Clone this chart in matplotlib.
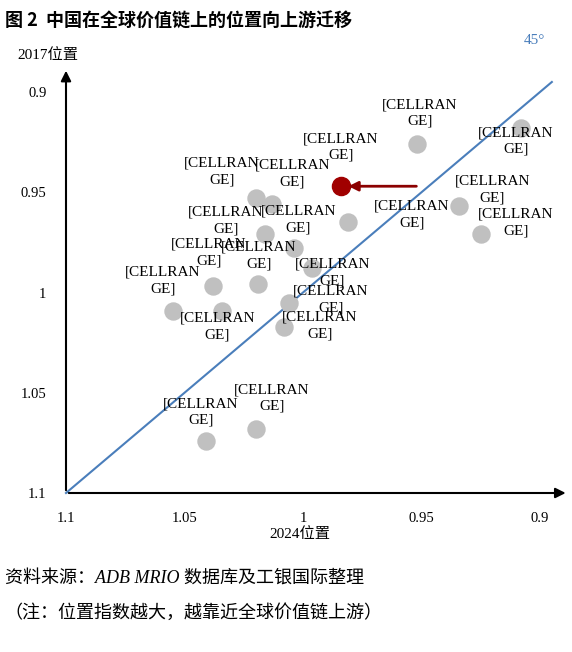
import matplotlib.pyplot as plt

plt.rcParams['font.family'] = ['Liberation Serif', 'Noto Sans CJK SC']

x2024 = [0.908, 0.952, 0.934, 0.925, 0.981, 1.020, 1.013, 1.016, 1.004, 0.996,
         1.038, 1.019, 1.055, 1.034, 1.006, 1.008, 1.041, 1.020]
y2017 = [0.918, 0.926, 0.957, 0.971, 0.965, 0.953, 0.956, 0.971, 0.978, 0.988,
         0.997, 0.996, 1.009, 1.009, 1.005, 1.017, 1.074, 1.068]
# label centre offsets from each point, in pixels (right, down)
offs = [(-5, 13), (3, -31), (33, -17), (35, -12), (64, -8), (-34, -27), (20, -31), (-39, -14),
        (5, -29), (20, 4), (-4, -34), (1, -29), (-10, -30), (-5, 16), (42, -3), (36, -1),
        (-5, -29), (16, -31)]
red_x, red_y = 0.984, 0.947
label = "[CELLRAN\nGE]"
ticks = [1.1, 1.05, 1, 0.95, 0.9]
tick_labels = ["1.1", "1.05", "1", "0.95", "0.9"]

fig = plt.figure(figsize=(5.72, 6.52), dpi=100)
ax = fig.add_axes([66/572, 159/652, 474/572, 401/652])
ax.set_xlim(1.1, 0.9)
ax.set_ylim(1.1, 0.9)
for s in ax.spines.values():
    s.set_visible(False)
ax.set_xticks(ticks)
ax.set_xticklabels(tick_labels, fontsize=10.5)
ax.set_yticks(ticks)
ax.set_yticklabels(tick_labels, fontsize=10.5)
ax.tick_params(length=0, pad=14)

ax.plot([1.1, 0.895], [1.1, 0.895], color='#4a7ebb', lw=1.5, clip_on=False, zorder=1)
ax.text(0.898, 0.876, "45°", color='#4a7ebb', fontsize=11, ha='right')

ax.annotate('', xy=(1.06, 0), xytext=(0, 0), xycoords='axes fraction',
            arrowprops=dict(arrowstyle='-|>', color='black', lw=1.5, mutation_scale=15))
ax.annotate('', xy=(0, 1.06), xytext=(0, 0), xycoords='axes fraction',
            arrowprops=dict(arrowstyle='-|>', color='black', lw=1.5, mutation_scale=15))

ax.scatter(x2024, y2017, s=150, color='#c0c0c0', zorder=3, clip_on=False)
for x, y, (dx, dy) in zip(x2024, y2017, offs):
    ax.annotate(label, (x, y), xytext=(dx * 0.72, -dy * 0.72), textcoords='offset points',
                ha='center', va='center', fontsize=11, linespacing=1.35, zorder=4)
ax.scatter([red_x], [red_y], s=170, color='#a00000', zorder=5)
ax.annotate(label, (red_x, red_y), xytext=(0, 39 * 0.72), textcoords='offset points',
            ha='center', va='center', fontsize=11, linespacing=1.35)
ax.annotate('', xy=(red_x - 0.002, red_y), xytext=(0.951, red_y),
            arrowprops=dict(arrowstyle='-|>', color='#8b0000', lw=2, mutation_scale=14), zorder=5)

fig.text(0.008, 0.982, "图 2  中国在全球价值链上的位置向上游迁移", fontsize=13, va='top',
         family=['Noto Sans CJK SC'], weight='bold')
fig.text(0.03, 0.905, "2017位置", fontsize=11, va='bottom')
fig.text(0.525, 0.175, "2024位置", fontsize=11, ha='center')
fig.text(0.008, 0.105, "资料来源：ADB MRIO 数据库及工银国际整理", fontsize=13, style='italic')
fig.text(0.008, 0.053, "（注：位置指数越大，越靠近全球价值链上游）", fontsize=13, style='italic')

fig.savefig('out.png', dpi=100)
